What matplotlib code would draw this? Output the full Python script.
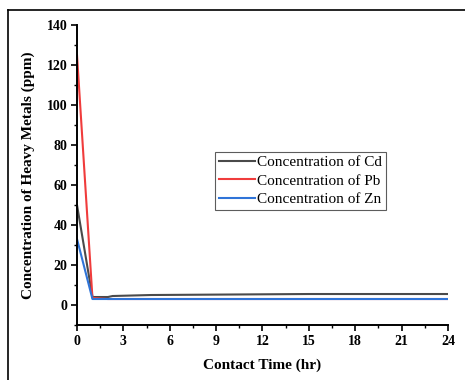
import numpy as np
import matplotlib.pyplot as plt
from matplotlib.ticker import MultipleLocator
from matplotlib.lines import Line2D

# contact time (hr) and concentrations (ppm)
time = [0, 1, 2, 2.3, 4.8, 15, 24]
cd = [50, 4, 4, 4.5, 5.0, 5.5, 5.5]
pb = [125, 3.5, 3, 3, 3, 3, 3]
zn = [33, 3, 3, 3, 3, 3, 3]

labels = ['Concentration of Cd', 'Concentration of Pb', 'Concentration of Zn']
colors = ['#4a4a4a', '#f03c3c', '#2f74d8']

plt.rcParams['font.family'] = ['Liberation Serif', 'DejaVu Serif']

fig = plt.figure(figsize=(4.65, 3.8), dpi=100)
ax = fig.add_axes([0.1656, 0.1447, 0.7978, 0.7895])

for vals, lab, c in zip([cd, pb, zn], labels, colors):
    ax.plot(time, vals, color=c, lw=1.5, label=lab)

ax.set_xlim(0, 24)
ax.set_ylim(-10, 140)
ax.xaxis.set_major_locator(MultipleLocator(3))
ax.xaxis.set_minor_locator(MultipleLocator(1.5))
ax.yaxis.set_major_locator(MultipleLocator(20))
ax.yaxis.set_minor_locator(MultipleLocator(10))

for s in ['top', 'right']:
    ax.spines[s].set_visible(False)
for s in ['left', 'bottom']:
    ax.spines[s].set_linewidth(1.4)

ax.tick_params(which='major', direction='out', length=4, width=1.2, labelsize=10, pad=3)
ax.tick_params(which='minor', direction='out', length=2.5, width=1.0)
for t in ax.get_xticklabels() + ax.get_yticklabels():
    t.set_fontweight('bold')

ax.set_xlabel('Contact Time (hr)', fontsize=11, fontweight='bold', labelpad=8)
ax.set_ylabel('Concentration of Heavy Metals (ppm)', fontsize=11, fontweight='bold', labelpad=8)

leg = ax.legend(loc='upper left', bbox_to_anchor=(0.372, 0.577), borderaxespad=0,
                fontsize=11, frameon=True, fancybox=False, handlelength=2.4,
                handletextpad=0.1, labelspacing=0.3, borderpad=0.25)
leg.get_frame().set_edgecolor('#333333')
leg.get_frame().set_linewidth(0.8)

# partial border around the image
fig.add_artist(Line2D([8 / 465, 1], [1 - 10 / 380, 1 - 10 / 380], color='black', lw=1.2,
                      transform=fig.transFigure))
fig.add_artist(Line2D([8 / 465, 8 / 465], [0, 1 - 10 / 380], color='black', lw=1.2,
                      transform=fig.transFigure))

fig.savefig('out.png', dpi=100)
